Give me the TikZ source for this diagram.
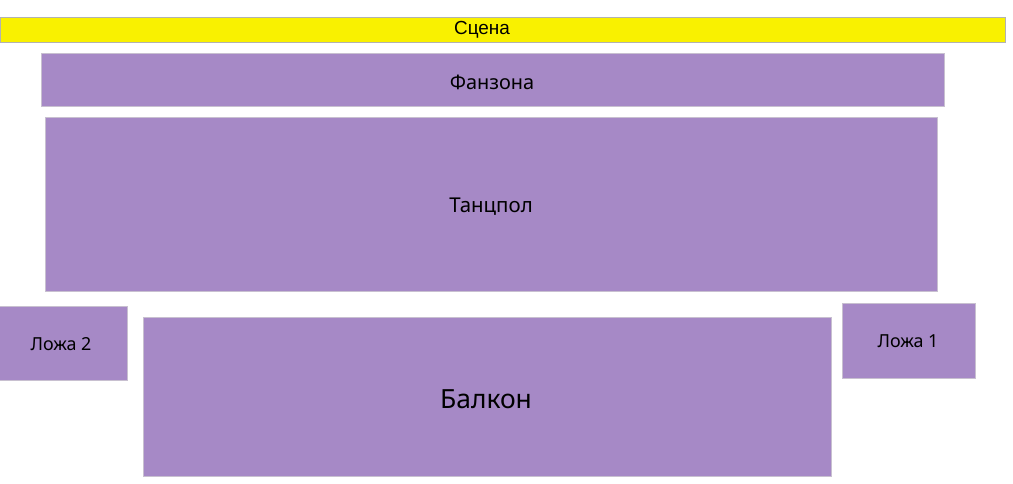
\documentclass[tikz,border=0pt]{standalone}
\usepackage{fontspec}
\setmainfont{Noto Sans}
\newfontfamily\arialfont{Liberation Sans}
\definecolor{zone}{HTML}{A689C6}
\definecolor{stage}{HTML}{F9F100}
\definecolor{edge}{HTML}{C8C0D0}
\begin{document}
\begin{tikzpicture}[x=1bp,y=-1bp,
  zonebox/.style={fill=zone,draw=edge,line width=0.6bp},
  lbl/.style={text=black,inner sep=0pt}]
\useasboundingbox (0,0) rectangle (1013,484);
\fill[white] (0,0) rectangle (1013,484);
% stage
\draw[fill=stage,draw=black!30,line width=0.8bp] (0,17) rectangle (1005,42);
\node[lbl,font=\arialfont\fontsize{19}{22}\selectfont] (scena) at (482,30) {Сцена};
% zones
\draw[zonebox] (41,53) rectangle (944,106);
\node[lbl,font=\fontsize{20}{24}\selectfont] (fan) at (492,82) {Фанзона};
\draw[zonebox] (45,117) rectangle (937,291);
\node[lbl,font=\fontsize{20.5}{24}\selectfont] (tanc) at (491,207) {Танцпол};
\draw[zonebox] (-1,306) rectangle (127,380);
\node[lbl,font=\fontsize{18}{21}\selectfont] (loza2) at (61,344) {Ложа 2};
\draw[zonebox] (143,317) rectangle (831,476);
\node[lbl,font=\fontsize{26.5}{31}\selectfont] (balk) at (486,399) {Балкон};
\draw[zonebox] (842,303) rectangle (975,378);
\node[lbl,font=\fontsize{18}{21}\selectfont] (loza1) at (908,341) {Ложа 1};
\end{tikzpicture}
\end{document}
